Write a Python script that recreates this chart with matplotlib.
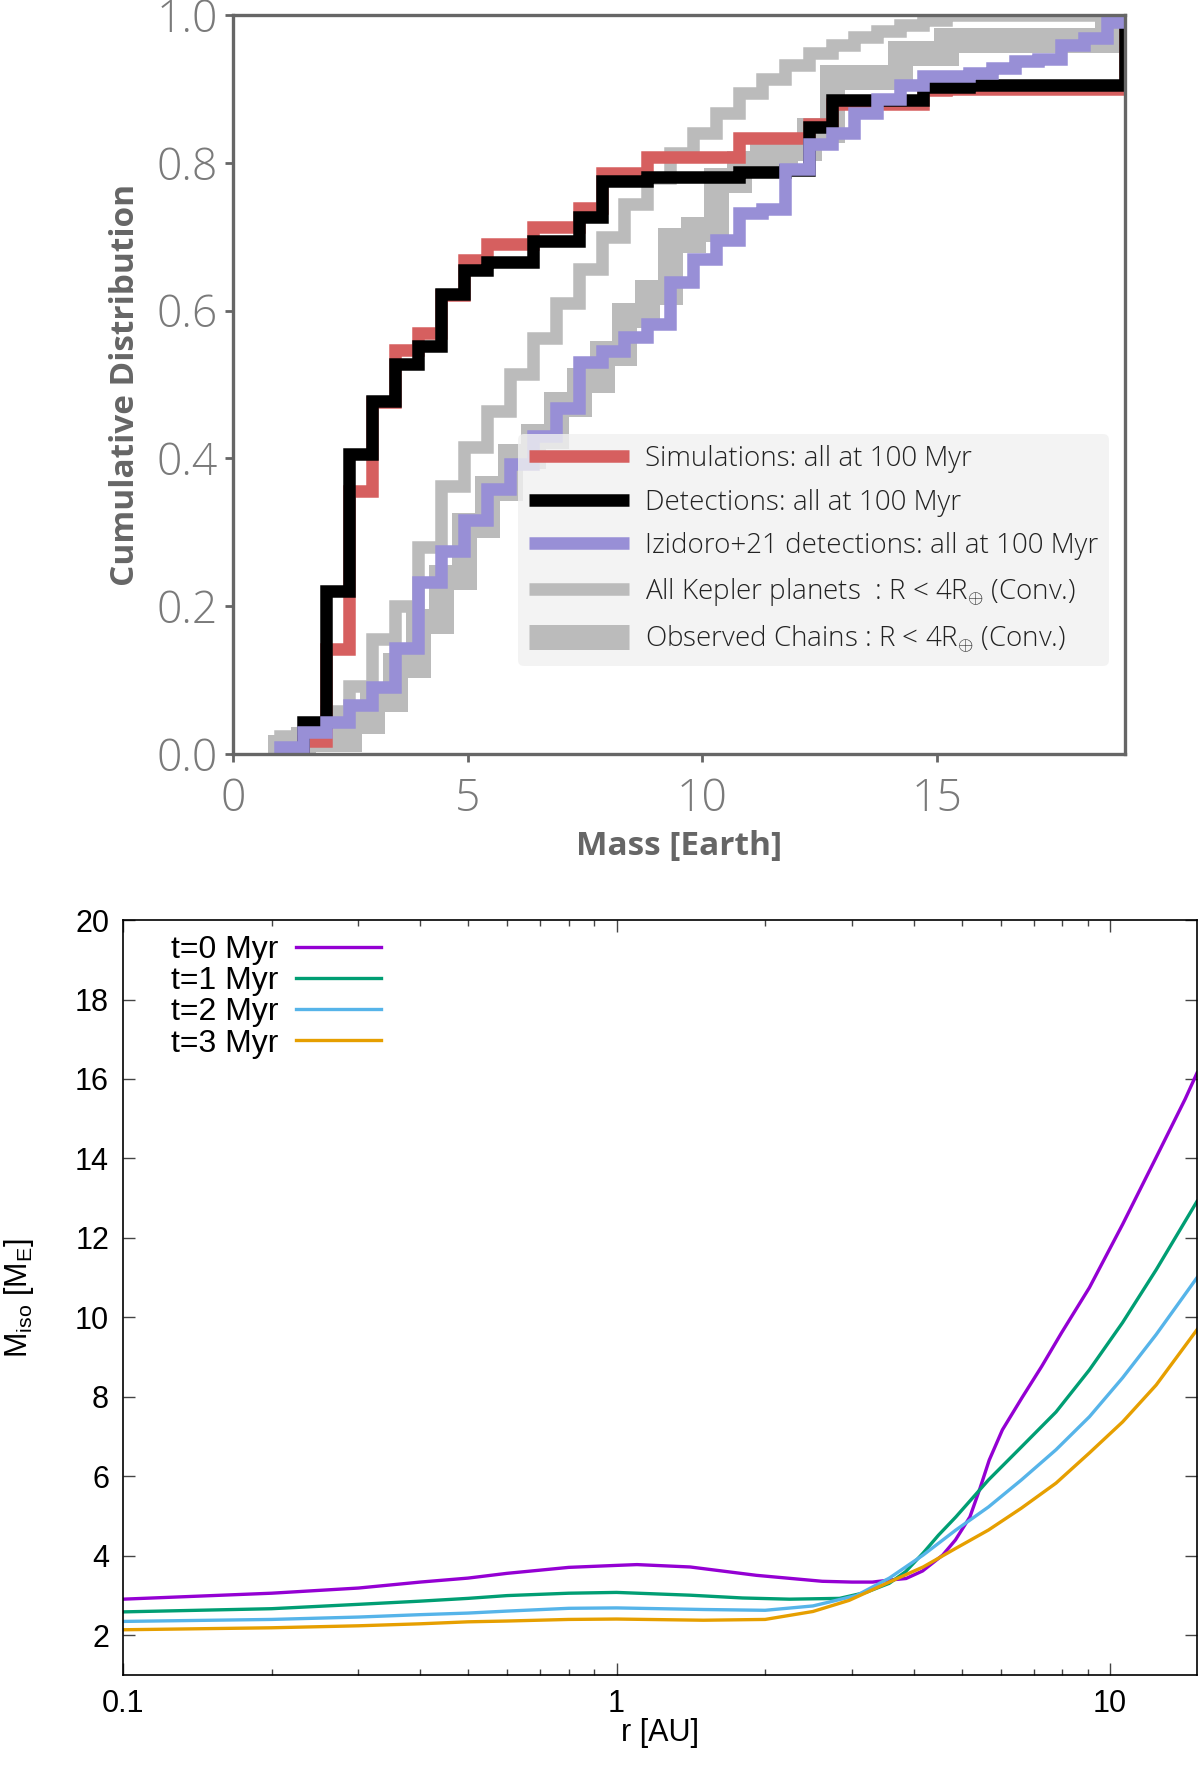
import matplotlib
matplotlib.use("Agg")
import matplotlib.pyplot as plt
from matplotlib.lines import Line2D

# ---------------- data: top panel (cumulative distributions) ----------------
mass_edges = [0.52, 1.01, 1.50, 1.99, 2.48, 2.97, 3.45, 3.94, 4.43, 4.92,
              5.41, 5.90, 6.39, 6.88, 7.37, 7.86, 8.34, 8.83, 9.32, 9.81,
              10.30, 10.79, 11.28, 11.77, 12.26, 12.75, 13.23, 13.72, 14.21, 14.70,
              15.19, 15.68, 16.17, 16.66, 17.15, 17.64, 18.12, 18.61, 19.00]

cdf_simulations = [0, 0, 0.018, 0.142, 0.356, 0.476, 0.547, 0.570, 0.621, 0.669,
                   0.690, 0.690, 0.713, 0.713, 0.739, 0.786, 0.786, 0.808, 0.808, 0.808,
                   0.808, 0.833, 0.833, 0.833, 0.852, 0.880, 0.880, 0.880, 0.880, 0.898,
                   0.900, 0.900, 0.900, 0.900, 0.900, 0.900, 0.900, 0.900, 1.0]
cdf_detections = [0, 0, 0.043, 0.221, 0.406, 0.478, 0.528, 0.552, 0.622, 0.655,
                  0.666, 0.666, 0.694, 0.694, 0.727, 0.775, 0.775, 0.781, 0.781, 0.781,
                  0.781, 0.788, 0.788, 0.790, 0.848, 0.885, 0.885, 0.885, 0.885, 0.902,
                  0.902, 0.905, 0.905, 0.905, 0.905, 0.905, 0.905, 0.905, 1.0]
cdf_izidoro = [0, 0.010, 0.030, 0.043, 0.066, 0.091, 0.143, 0.233, 0.275, 0.316,
               0.358, 0.392, 0.430, 0.468, 0.530, 0.545, 0.564, 0.582, 0.639, 0.670,
               0.696, 0.732, 0.737, 0.791, 0.825, 0.840, 0.868, 0.887, 0.905, 0.917,
               0.917, 0.921, 0.928, 0.938, 0.941, 0.959, 0.969, 0.990, 1.0]
cdf_kepler = [0, 0.024, 0.030, 0.058, 0.092, 0.155, 0.200, 0.280, 0.362, 0.415,
              0.464, 0.514, 0.563, 0.611, 0.657, 0.700, 0.744, 0.780, 0.813, 0.840,
              0.867, 0.894, 0.914, 0.933, 0.949, 0.959, 0.970, 0.978, 0.987, 0.993,
              1.0, 1.0, 1.0, 1.0, 1.0, 1.0, 1.0, 1.0, 1.0]
cdf_chains = [0, 0.010, 0.020, 0.020, 0.045, 0.075, 0.120, 0.180, 0.240, 0.310,
              0.360, 0.403, 0.430, 0.473, 0.506, 0.542, 0.594, 0.625, 0.695, 0.711,
              0.777, 0.800, 0.810, 0.820, 0.845, 0.916, 0.916, 0.916, 0.948, 0.948,
              0.966, 0.966, 0.966, 0.966, 0.966, 0.966, 0.966, 0.985, 1.0]

top_labels = ['Simulations: all at 100 Myr',
              'Detections: all at 100 Myr',
              'Izidoro+21 detections: all at 100 Myr',
              'All Kepler planets  : R < 4R$_{\\oplus}$ (Conv.)',
              'Observed Chains : R < 4R$_{\\oplus}$ (Conv.)']
top_xticks = [0, 5, 10, 15]
top_yticks = [0.0, 0.2, 0.4, 0.6, 0.8, 1.0]

# ---------------- data: bottom panel (isolation mass) ----------------
r_t0 = [0.1, 0.2, 0.3, 0.4, 0.5, 0.6, 0.7, 0.8, 1.0, 1.1, 1.41, 1.92, 2.61, 3.0, 3.30,
        3.57, 3.86, 4.17, 4.58, 4.86, 5.20, 5.45, 5.69, 6.05, 6.63, 7.27, 7.97, 9.08,
        10.6, 12.4, 14.2, 15.0]
m_t0 = [2.91, 3.06, 3.19, 3.34, 3.44, 3.56, 3.64, 3.71, 3.76, 3.78, 3.72, 3.51, 3.36, 3.34, 3.34,
        3.39, 3.43, 3.62, 4.02, 4.40, 4.98, 5.70, 6.41, 7.17, 7.98, 8.77, 9.61, 10.75,
        12.34, 14.03, 15.5, 16.15]
r_t1 = [0.1, 0.2, 0.3, 0.4, 0.5, 0.6, 0.8, 1.0, 1.41, 1.8, 2.24, 2.83, 3.2, 3.57, 3.85,
        4.18, 4.49, 4.87, 5.67, 6.61, 7.77, 9.08, 10.6, 12.4, 15.0]
m_t1 = [2.59, 2.67, 2.78, 2.86, 2.93, 3.00, 3.06, 3.08, 3.01, 2.94, 2.91, 2.93, 3.08, 3.31, 3.60,
        4.07, 4.52, 4.98, 5.91, 6.74, 7.62, 8.68, 9.87, 11.2, 12.92]
r_t2 = [0.1, 0.2, 0.3, 0.4, 0.5, 0.6, 0.8, 1.0, 1.5, 2.0, 2.5, 3.06, 3.57, 4.18, 4.87,
        5.67, 6.61, 7.77, 9.08, 10.6, 12.4, 15.0]
m_t2 = [2.35, 2.40, 2.46, 2.52, 2.56, 2.61, 2.68, 2.69, 2.65, 2.63, 2.74, 3.00, 3.44, 4.02, 4.65,
        5.23, 5.91, 6.67, 7.50, 8.48, 9.57, 11.0]
r_t3 = [0.1, 0.2, 0.3, 0.4, 0.5, 0.6, 0.8, 1.0, 1.5, 2.0, 2.5, 2.96, 3.57, 4.18, 4.87,
        5.67, 6.61, 7.77, 9.08, 10.6, 12.4, 15.0]
m_t3 = [2.14, 2.19, 2.24, 2.29, 2.34, 2.36, 2.40, 2.41, 2.38, 2.40, 2.60, 2.88, 3.34, 3.72, 4.19,
        4.65, 5.20, 5.83, 6.59, 7.37, 8.30, 9.69]
bottom_labels = ['t=0 Myr', 't=1 Myr', 't=2 Myr', 't=3 Myr']
bottom_yticks = [2, 4, 6, 8, 10, 12, 14, 16, 18, 20]
bottom_xticks = [0.1, 1, 10]
bottom_xticklabels = ['0.1', '1', '10']

# ---------------- styling ----------------
plt.rcParams['mathtext.fontset'] = 'custom'
plt.rcParams['mathtext.rm'] = 'Liberation Sans'
plt.rcParams['mathtext.it'] = 'Liberation Sans'

TOP_FONT = ['Open Sans', 'DejaVu Sans']
BOT_FONT = ['Liberation Sans', 'DejaVu Sans']
GREY_SPINE = '#666666'
c_red = '#d65f5f'
c_black = '#000000'
c_purple = '#988fd6'
c_grey = '#bbbbbb'

fig = plt.figure(figsize=(12, 17.72), dpi=100)

# ---------------- top panel ----------------
ax1 = fig.add_axes([0.194, 0.5745, 0.9375 - 0.194, 0.9915 - 0.5745])


def step_series(edges, vals):
    k = next(i for i, v in enumerate(vals) if v > 0)
    xs = [edges[k]] + list(edges[k:])
    ys = [0.0] + list(vals[k:])
    return xs, ys


series = [
    (cdf_chains, c_grey, 18, 1),
    (cdf_kepler, c_grey, 9, 2),
    (cdf_simulations, c_red, 9, 3),
    (cdf_detections, c_black, 9, 4),
    (cdf_izidoro, c_purple, 9, 5),
]
for vals, col, lw, z in series:
    xs, ys = step_series(mass_edges, vals)
    ax1.step(xs, ys, where='post', color=col, lw=lw, zorder=z,
             solid_joinstyle='miter', solid_capstyle='butt')

ax1.set_xlim(0, 19.0)
ax1.set_ylim(0, 1.0)
ax1.set_xticks(top_xticks)
ax1.set_yticks(top_yticks)
ax1.set_xticklabels([str(t) for t in top_xticks])
ax1.set_yticklabels(['%.1f' % t for t in top_yticks])
for sp in ax1.spines.values():
    sp.set_color(GREY_SPINE)
    sp.set_linewidth(2.4)
    sp.set_zorder(10)
ax1.tick_params(axis='both', direction='out', length=6, width=2, color=GREY_SPINE,
                labelcolor='#7a7a7a', labelsize=32)
ax1.tick_params(axis='y', pad=5)
ax1.tick_params(axis='x', pad=11)
for lab in ax1.get_xticklabels() + ax1.get_yticklabels():
    lab.set_family(TOP_FONT)
    lab.set_fontweight('light')
ax1.set_xlabel('Mass [Earth]', family=TOP_FONT, fontweight='bold', fontsize=24,
               color='#666666', labelpad=6)
ax1.set_ylabel('Cumulative Distribution', family=TOP_FONT, fontweight='bold', fontsize=24,
               color='#666666', labelpad=10)

handles = [Line2D([], [], color=c_red, lw=9, solid_capstyle='butt'),
           Line2D([], [], color=c_black, lw=9, solid_capstyle='butt'),
           Line2D([], [], color=c_purple, lw=9, solid_capstyle='butt'),
           Line2D([], [], color=c_grey, lw=9, solid_capstyle='butt'),
           Line2D([], [], color=c_grey, lw=18, solid_capstyle='butt')]
leg1 = ax1.legend(handles, top_labels, loc='lower right', bbox_to_anchor=(0.982, 0.119),
                  borderaxespad=0.0,
                  prop={'family': TOP_FONT, 'size': 20, 'weight': 'light'},
                  handlelength=3.6, handletextpad=0.55, labelspacing=0.56,
                  facecolor='#f1f1f1', edgecolor='none', framealpha=0.8,
                  fancybox=True, borderpad=0.4)
leg1.set_zorder(20)
for t in leg1.get_texts():
    t.set_color('#222222')

# ---------------- bottom panel ----------------
ax2 = fig.add_axes([0.1025, 0.0547, 0.9975 - 0.1025, 0.4808 - 0.0547])
colors_b = ['#9400d3', '#009e73', '#56b4e9', '#e69f00']
for rr, mm, col, lab in zip([r_t0, r_t1, r_t2, r_t3], [m_t0, m_t1, m_t2, m_t3],
                            colors_b, bottom_labels):
    ax2.plot(rr, mm, color=col, lw=2.4, label=lab)

ax2.set_xscale('log')
ax2.set_xlim(0.1, 15.0)
ax2.set_ylim(1, 20)
ax2.set_yticks(bottom_yticks)
ax2.set_xticks(bottom_xticks)
ax2.set_xticklabels(bottom_xticklabels)
ax2.tick_params(which='both', direction='in', top=True, right=True, color='#444444')
ax2.tick_params(which='major', length=8.5, width=1.0, labelsize=22, pad=10)
ax2.tick_params(which='minor', length=4, width=1.0)
for lab in ax2.get_xticklabels() + ax2.get_yticklabels():
    lab.set_family(BOT_FONT)
for sp in ax2.spines.values():
    sp.set_color('black')
    sp.set_linewidth(1.2)
ax2.set_xlabel('r [AU]', family=BOT_FONT, fontsize=22, labelpad=-1)
ax2.set_ylabel('M$_{\\mathrm{iso}}$ [M$_{\\mathrm{E}}$]', family=BOT_FONT, fontsize=22,
               labelpad=28)
leg2 = ax2.legend(loc='upper left', bbox_to_anchor=(0.024, 1.01), frameon=False,
                  markerfirst=False, prop={'family': BOT_FONT, 'size': 23},
                  handlelength=2.65, handletextpad=0.55, labelspacing=0.04,
                  borderaxespad=0.3)

fig.savefig('out.png', dpi=100)
